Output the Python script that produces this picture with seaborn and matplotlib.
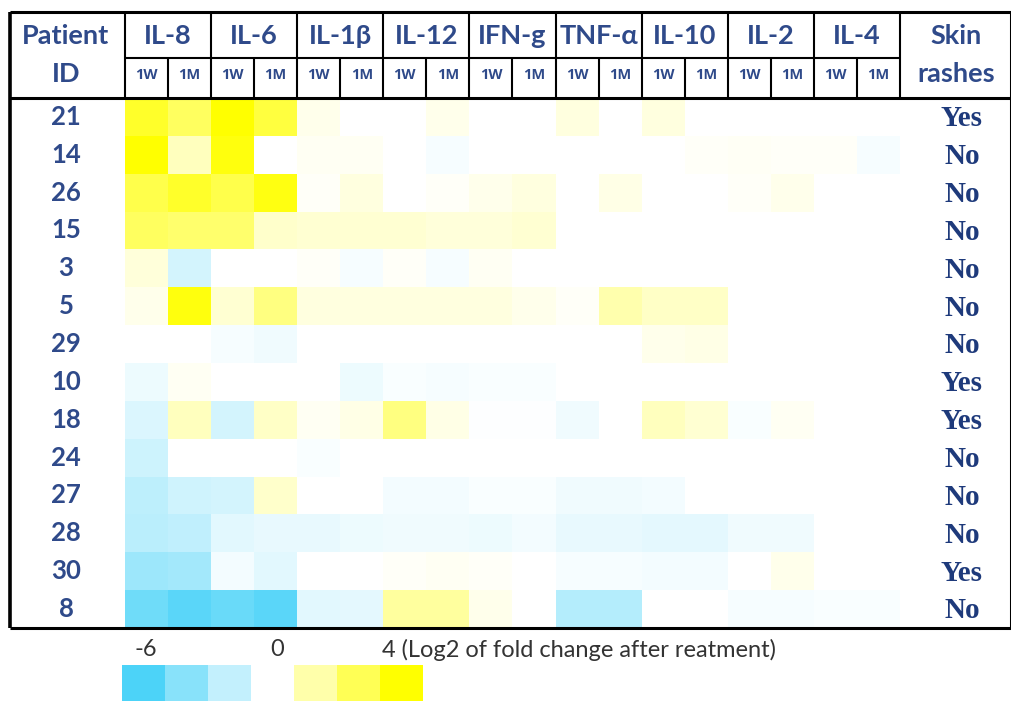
import numpy as np
import pandas as pd
import matplotlib
matplotlib.use("Agg")
import matplotlib.pyplot as plt
import seaborn as sns
from matplotlib.colors import LinearSegmentedColormap

# ------ DATA ------
patients = ["21", "14", "26", "15", "3", "5", "29", "10", "18", "24", "27", "28", "30", "8"]
cytokines = ["IL-8", "IL-6", "IL-1β", "IL-12", "IFN-g", "TNF-α", "IL-10", "IL-2", "IL-4"]
timepoints = ["1W", "1M"]
skin_rashes = ["Yes", "No", "No", "No", "No", "No", "No", "Yes", "Yes", "No", "No", "No", "Yes", "No"]

# log2 fold change, columns: IL-8 1W/1M, IL-6 1W/1M, ... IL-4 1W/1M
log2fc = [
    [3.3, 2.5, 4.0, 3.0, 0.3, 0.0, 0.0, 0.3, 0.0, 0.0, 0.5, 0.0, 0.5, 0.0, 0.0, 0.0, 0.0, 0.0],
    [4.0, 1.0, 3.8, 0.0, 0.2, 0.2, 0.0, -0.3, 0.0, 0.0, 0.0, 0.0, 0.0, 0.1, 0.15, 0.1, 0.1, -0.3],
    [2.8, 3.3, 2.8, 3.7, 0.1, 0.5, 0.0, 0.1, 0.3, 0.5, 0.0, 0.4, 0.0, 0.0, 0.1, 0.3, 0.0, 0.0],
    [2.5, 2.3, 2.3, 0.8, 0.7, 0.7, 0.7, 0.6, 0.6, 0.7, 0.0, 0.0, 0.0, 0.0, 0.0, 0.0, 0.0, 0.0],
    [0.6, -1.5, 0.0, 0.0, 0.1, -0.3, 0.1, -0.3, 0.2, 0.0, 0.0, 0.0, 0.0, 0.0, 0.0, 0.0, 0.0, 0.0],
    [0.3, 3.8, 0.7, 2.0, 0.5, 0.5, 0.5, 0.5, 0.5, 0.3, 0.1, 1.3, 0.9, 0.9, 0.0, 0.0, 0.0, 0.0],
    [0.0, 0.0, -0.3, -0.5, 0.0, 0.0, 0.0, 0.0, 0.0, 0.0, 0.0, 0.0, 0.3, 0.4, 0.0, 0.0, 0.0, 0.0],
    [-0.6, 0.2, 0.0, 0.0, 0.0, -0.6, -0.2, -0.3, -0.2, -0.2, 0.0, 0.0, 0.0, 0.0, 0.0, 0.0, 0.0, 0.0],
    [-1.2, 1.0, -1.5, 0.9, 0.2, 0.4, 2.0, 0.4, -0.1, -0.1, -0.5, 0.0, 1.0, 0.7, -0.2, 0.2, 0.0, 0.0],
    [-1.7, 0.0, 0.0, 0.0, -0.2, 0.0, 0.0, 0.0, 0.0, 0.0, 0.0, 0.0, 0.0, 0.0, 0.0, 0.0, 0.0, 0.0],
    [-2.2, -1.6, -1.5, 0.8, 0.0, 0.0, -0.4, -0.4, -0.2, -0.2, -0.5, -0.5, -0.4, 0.0, 0.0, 0.0, 0.0, 0.0],
    [-2.3, -2.1, -1.0, -0.8, -0.8, -0.6, -0.5, -0.5, -0.6, -0.4, -0.8, -0.8, -0.9, -0.9, -0.5, -0.5, 0.0, 0.0],
    [-3.3, -3.1, -0.4, -1.0, 0.0, 0.0, 0.1, 0.2, 0.1, 0.0, -0.3, -0.3, -0.4, -0.4, 0.0, 0.3, 0.0, 0.0],
    [-4.8, -5.5, -5.0, -5.5, -1.0, -0.9, 1.5, 1.5, 0.3, 0.0, -2.5, -2.5, 0.0, 0.0, -0.3, -0.3, -0.2, -0.2],
]
legend_levels = [-6, -4, -2, 0, 1.33, 2.67, 4]

cols = pd.MultiIndex.from_product([cytokines, timepoints])
df = pd.DataFrame(log2fc, index=patients, columns=cols)

# ------ STYLE ------
sns.set_theme(style="white")
plt.rcParams["font.family"] = ["Lato", "DejaVu Sans"]
head_col = "#2F4A8A"
yn_col = "#1E3A7B"
cmap = LinearSegmentedColormap.from_list(
    "bwy", [(0.0, "#4CD3F8"), (0.6, "#FFFFFF"), (1.0, "#FFFF00")])

W, H = 1012, 701
fig = plt.figure(figsize=(W / 100, H / 100), dpi=100)


def px_axes(x0, y0, x1, y1):
    return fig.add_axes([x0 / W, 1 - y1 / H, (x1 - x0) / W, (y1 - y0) / H])


# ------ HEATMAP ------
ax = px_axes(125, 98, 900, 628)
sns.heatmap(df, ax=ax, cmap=cmap, vmin=-6, vmax=4, cbar=False,
            xticklabels=False, yticklabels=False)
ax.set_xlabel("")
ax.set_ylabel("")

cw = 775 / 18
rh = 530 / 14


def dx(px):
    return (px - 125) / cw


def dy(py):
    return (py - 98) / rh


left, right = dx(10), dx(1011)
top, mid = dy(12), dy(58)

# table lines
line = dict(color="black", clip_on=False, solid_capstyle="butt")
ax.plot([left, right], [top, top], lw=2.2, **line)
ax.plot([left, right], [0, 0], lw=2.2, **line)
ax.plot([left, right], [14, 14], lw=2.2, **line)
ax.plot([left, left], [top, 14], lw=2.6, **line)
ax.plot([right, right], [top, 14], lw=2.2, **line)
ax.plot([0, 18], [mid, mid], lw=1.5, **line)
for x in range(0, 19, 2):
    ax.plot([x, x], [top, 0], lw=1.5, **line)
for x in range(1, 18, 2):
    ax.plot([x, x], [mid, 0], lw=1.5, **line)

# header text
big = dict(ha="center", va="center", fontsize=19.5, fontweight="bold", color=head_col)
ax.text(dx(66), dy(36), "Patient", **big)
ax.text(dx(66), dy(74), "ID", **big)
ax.text(dx(956), dy(36), "Skin", **big)
ax.text(dx(956), dy(74), "rashes", **big)
for i, name in enumerate(cytokines):
    ax.text(2 * i + 1, dy(36), name, **big)
    for j, tp in enumerate(timepoints):
        ax.text(2 * i + j + 0.5, dy(75), tp, ha="center", va="center",
                fontsize=10.5, fontweight="bold", color=head_col,
                family=["Open Sans", "DejaVu Sans"])

# row labels
ids = dict(big, fontsize=18.5)
for r, (pid, yn) in enumerate(zip(patients, skin_rashes)):
    ax.text(dx(66), r + 0.5, pid, **ids)
    ax.text(dx(962), r + 0.55, yn, ha="center", va="center", fontsize=21,
            fontweight="bold", color=yn_col, family=["Liberation Serif"])

# ------ LEGEND ------
lax = px_axes(122, 665, 423, 701)
sns.heatmap(pd.DataFrame([legend_levels]), ax=lax, cmap=cmap, vmin=-6, vmax=4,
            cbar=False, xticklabels=False, yticklabels=False)
lax.set_xlabel("")
lax.set_ylabel("")
leg = dict(va="center", fontsize=17, color="#333333", clip_on=False)
lax.text(0.55, -0.42, "-6", ha="center", **leg)
lax.text(3.6, -0.42, "0", ha="center", **leg)
lax.text(6.05, -0.42, "4 (Log2 of fold change after reatment)", ha="left", **leg)

fig.savefig("out.png", dpi=100)
